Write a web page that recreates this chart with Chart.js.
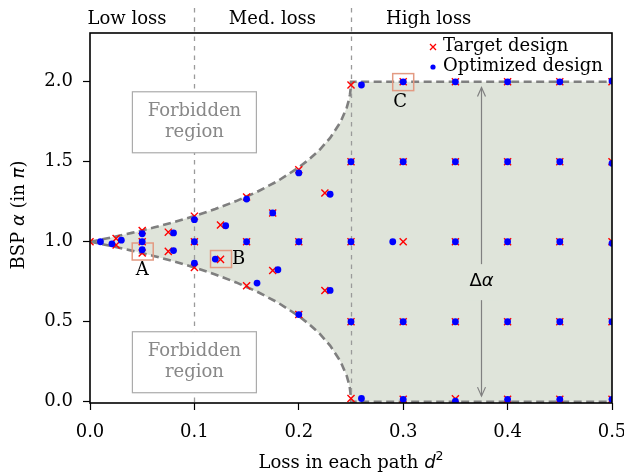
<!DOCTYPE html>
<html><head><meta charset="utf-8">
<script src="https://cdn.jsdelivr.net/npm/chart.js@4"></script>
<style>html,body{margin:0;padding:0;background:#fff}</style>
</head><body>
<canvas id="c" width="624" height="473"></canvas>
<script>
// ---- data ----
const xTicks = [0.0, 0.1, 0.2, 0.3, 0.4, 0.5];
const yTicks = [0.0, 0.5, 1.0, 1.5, 2.0];
const regionLabels = ['Low loss', 'Med. loss', 'High loss'];

const boundaryX     = [0, 0.02, 0.04, 0.06, 0.08, 0.10, 0.12, 0.14, 0.16, 0.18, 0.20, 0.21, 0.22, 0.23, 0.24, 0.246, 0.248, 0.249, 0.2498, 0.25, 0.5];
const boundaryUpper = [1.0, 1.0265, 1.0554, 1.0871, 1.122, 1.1609, 1.2046, 1.2543, 1.3119, 1.3803, 1.4646, 1.5156, 1.5751, 1.6493, 1.7487, 1.8398, 1.8864, 1.9196, 1.964, 2.0, 2.0];
const boundaryLower = [1.0, 0.9735, 0.9446, 0.9129, 0.878, 0.8391, 0.7954, 0.7457, 0.6881, 0.6197, 0.5354, 0.4844, 0.4249, 0.3507, 0.2513, 0.1602, 0.1136, 0.0804, 0.036, 0.0, 0.0];

const targetX = [0, 0.025, 0.025, 0.05, 0.05, 0.05, 0.075, 0.075, 0.1, 0.1, 0.1, 0.125, 0.125, 0.15, 0.15, 0.15, 0.175, 0.175, 0.2, 0.2, 0.2, 0.225, 0.225,
  0.25, 0.25, 0.25, 0.25, 0.25, 0.3, 0.3, 0.3, 0.3, 0.3, 0.35, 0.35, 0.35, 0.35, 0.35, 0.4, 0.4, 0.4, 0.4, 0.4, 0.45, 0.45, 0.45, 0.45, 0.45, 0.5, 0.5, 0.5, 0.5, 0.5];
const targetY = [1.0, 1.02, 0.98, 1.07, 1.0, 0.93, 1.06, 0.94, 1.16, 1.0, 0.84, 1.105, 0.89, 1.28, 1.0, 0.725, 1.18, 0.82, 1.45, 1.0, 0.545, 1.305, 0.695,
  1.98, 1.5, 1.0, 0.5, 0.02, 2.0, 1.5, 1.0, 0.5, 0.015, 2.0, 1.5, 1.0, 0.5, 0.018, 2.0, 1.5, 1.0, 0.5, 0.015, 2.0, 1.5, 1.0, 0.5, 0.015, 2.0, 1.5, 1.0, 0.5, 0.015];

const optimizedX = [0.01, 0.021, 0.03, 0.05, 0.05, 0.05, 0.08, 0.08, 0.1, 0.1, 0.1, 0.13, 0.12, 0.15, 0.15, 0.16, 0.175, 0.18, 0.2, 0.2, 0.2, 0.23, 0.23,
  0.26, 0.25, 0.25, 0.25, 0.26, 0.3, 0.3, 0.29, 0.3, 0.3, 0.35, 0.35, 0.35, 0.35, 0.35, 0.4, 0.4, 0.4, 0.4, 0.4, 0.45, 0.45, 0.45, 0.45, 0.45, 0.5, 0.5, 0.5, 0.5, 0.5];
const optimizedY = [1.0, 0.987, 1.01, 1.05, 1.0, 0.95, 1.055, 0.945, 1.138, 1.0, 0.866, 1.10, 0.892, 1.267, 1.0, 0.742, 1.18, 0.825, 1.43, 1.0, 0.545, 1.297, 0.696,
  1.98, 1.5, 1.0, 0.5, 0.02, 2.0, 1.5, 1.0, 0.5, 0.015, 2.0, 1.5, 1.0, 0.5, 0.003, 2.0, 1.5, 1.0, 0.5, 0.015, 2.0, 1.5, 1.0, 0.5, 0.015, 2.005, 1.49, 0.99, 0.5, 0.015];

const regionBorders = [0.1, 0.25];
const annotLetters = ['A', 'B', 'C'];
const annotPoints = [[0.0505, 0.939], [0.1255, 0.892], [0.3, 1.998]];

// ---- styling ----
const SERIF = '"DejaVu Serif", serif';
const SANS = '"DejaVu Sans", sans-serif';
const FILL = '#dfe4da';
const zip = (xs, ys) => xs.map((x, i) => ({x, y: ys[i]}));

function rich(ctx, parts, x, y, align) {
  let w = 0;
  parts.forEach(p => { ctx.font = p.f; p.w = ctx.measureText(p.t).width; w += p.w; });
  let cx = align === 'center' ? x - w / 2 : x;
  ctx.textAlign = 'left';
  parts.forEach(p => { ctx.font = p.f; ctx.fillText(p.t, cx, y + (p.dy || 0)); cx += p.w; });
}

const deco = {
  id: 'deco',
  afterDatasetDraw(chart, args) {
    if (args.index !== 1) return;
    const ctx = chart.ctx, xs = chart.scales.x, ys = chart.scales.y, ca = chart.chartArea;
    ctx.save();
    // region border lines
    ctx.strokeStyle = '#9a9a9a'; ctx.lineWidth = 1.3; ctx.setLineDash([4.5, 5]);
    regionBorders.forEach(v => {
      const px = Math.round(xs.getPixelForValue(v)) + 0.5;
      ctx.beginPath(); ctx.moveTo(px, 8); ctx.lineTo(px, ca.bottom); ctx.stroke();
    });
    ctx.setLineDash([]);
    // forbidden region boxes
    [1.75, 0.25].forEach(v => {
      const cx = xs.getPixelForValue(0.1), cy = ys.getPixelForValue(v);
      ctx.fillStyle = '#fff'; ctx.fillRect(cx - 62, cy - 30, 124, 61);
      ctx.strokeStyle = '#ababab'; ctx.lineWidth = 1.2; ctx.strokeRect(cx - 62, cy - 30, 124, 61);
      ctx.fillStyle = '#888'; ctx.font = '18px ' + SERIF; ctx.textAlign = 'center'; ctx.textBaseline = 'middle';
      ctx.fillText('Forbidden', cx, cy - 10);
      ctx.fillText('region', cx, cy + 11);
    });
    // delta alpha arrow
    const ax = xs.getPixelForValue(0.375);
    const y1 = ys.getPixelForValue(1.965), y2 = ys.getPixelForValue(0.035);
    ctx.strokeStyle = '#808080'; ctx.lineWidth = 1.2;
    ctx.beginPath(); ctx.moveTo(ax, y1); ctx.lineTo(ax, y2); ctx.stroke();
    ctx.beginPath();
    ctx.moveTo(ax - 4, y1 + 9); ctx.lineTo(ax, y1); ctx.lineTo(ax + 4, y1 + 9);
    ctx.moveTo(ax - 4, y2 - 9); ctx.lineTo(ax, y2); ctx.lineTo(ax + 4, y2 - 9);
    ctx.stroke();
    const ly = ys.getPixelForValue(0.76);
    ctx.fillStyle = FILL; ctx.fillRect(ax - 18, ly - 16, 36, 36);
    ctx.fillStyle = '#000'; ctx.textBaseline = 'middle';
    rich(ctx, [{t: 'Δ', f: '18px ' + SANS}, {t: 'α', f: 'oblique 18px ' + SANS}], ax, ly + 1, 'center');
    // A, B, C boxes
    ctx.strokeStyle = '#e39a82'; ctx.lineWidth = 1.5;
    annotPoints.forEach(p => {
      const cx = xs.getPixelForValue(p[0]), cy = ys.getPixelForValue(p[1]);
      ctx.strokeRect(cx - 10.5, cy - 8.5, 21, 17);
    });
    ctx.fillStyle = '#000'; ctx.font = '18px ' + SERIF; ctx.textBaseline = 'middle';
    ctx.textAlign = 'center';
    ctx.fillText(annotLetters[0], xs.getPixelForValue(0.05), ys.getPixelForValue(0.82));
    ctx.textAlign = 'left';
    ctx.fillText(annotLetters[1], xs.getPixelForValue(0.136), ys.getPixelForValue(0.89));
    ctx.textAlign = 'center';
    ctx.fillText(annotLetters[2], xs.getPixelForValue(0.297), ys.getPixelForValue(1.872));
    ctx.restore();
  },
  afterDraw(chart) {
    const ctx = chart.ctx, xs = chart.scales.x, ca = chart.chartArea;
    ctx.save();
    // frame
    ctx.strokeStyle = '#000'; ctx.lineWidth = 1.6;
    ctx.strokeRect(ca.left, ca.top, ca.right - ca.left, ca.bottom - ca.top);
    // top region labels
    ctx.fillStyle = '#000'; ctx.font = '18px ' + SERIF; ctx.textAlign = 'center'; ctx.textBaseline = 'alphabetic';
    [0.0355, 0.1747, 0.3244].forEach((v, i) => ctx.fillText(regionLabels[i], xs.getPixelForValue(v), 24));
    // legend
    const lx = 433;
    ctx.strokeStyle = '#ff0000'; ctx.lineWidth = 1.3;
    ctx.beginPath(); ctx.moveTo(lx - 3, 44); ctx.lineTo(lx + 3, 50); ctx.moveTo(lx + 3, 44); ctx.lineTo(lx - 3, 50); ctx.stroke();
    ctx.fillStyle = '#0000ff'; ctx.beginPath(); ctx.arc(lx, 67, 2.6, 0, Math.PI * 2); ctx.fill();
    ctx.fillStyle = '#000'; ctx.textAlign = 'left'; ctx.textBaseline = 'middle';
    ctx.fillText('Target design', 443, 46);
    ctx.fillText('Optimized design', 443, 66);
    // axis titles
    ctx.textBaseline = 'alphabetic';
    rich(ctx, [{t: 'Loss in each path ', f: '18px ' + SERIF}, {t: 'd', f: 'oblique 18px ' + SANS}, {t: '2', f: '12.5px ' + SANS, dy: -8}], (ca.left + ca.right) / 2, 468, 'center');
    ctx.translate(24, 215); ctx.rotate(-Math.PI / 2);
    rich(ctx, [{t: 'BSP ', f: '18px ' + SERIF}, {t: 'α', f: 'oblique 18px ' + SANS}, {t: ' (in ', f: '18px ' + SERIF}, {t: 'π', f: 'oblique 18px ' + SANS}, {t: ')', f: '18px ' + SERIF}], 0, 0, 'center');
    ctx.restore();
  }
};

const tickFont = {family: SERIF, size: 18};
new Chart(document.getElementById('c'), {
  type: 'scatter',
  data: {
    datasets: [
      {type: 'line', label: 'upper', data: zip(boundaryX, boundaryUpper), borderColor: '#7f7f7f', borderWidth: 2.6, borderDash: [8, 4.5],
       pointRadius: 0, fill: '+1', backgroundColor: FILL, tension: 0, order: 10},
      {type: 'line', label: 'lower', data: zip(boundaryX, boundaryLower), borderColor: '#7f7f7f', borderWidth: 2.6, borderDash: [8, 4.5],
       pointRadius: 0, fill: false, tension: 0, order: 9},
      {label: 'Target design', data: zip(targetX, targetY), pointStyle: 'crossRot', pointRadius: 5, borderColor: '#ff0000', borderWidth: 1.4,
       backgroundColor: '#ff0000', clip: 0, order: 1},
      {label: 'Optimized design', data: zip(optimizedX, optimizedY), pointStyle: 'circle', pointRadius: 3.4, borderWidth: 0,
       backgroundColor: '#0000ff', borderColor: '#0000ff', clip: 0, order: 0}
    ]
  },
  options: {
    responsive: false, animation: false, events: [],
    layout: {padding: {top: 33, right: 12, left: 0, bottom: 0}},
    plugins: {legend: {display: false}, tooltip: {enabled: false}},
    scales: {
      x: {type: 'linear', min: 0, max: 0.5,
        afterBuildTicks: s => { s.ticks = xTicks.map(v => ({value: v})); },
        afterFit: s => { s.height = 70; s.paddingLeft = 0; s.paddingRight = 0; },
        grid: {drawOnChartArea: false, drawTicks: true, tickLength: 7, tickWidth: 1.2, tickColor: '#000'},
        border: {display: false},
        ticks: {font: tickFont, color: '#000', padding: 12, maxRotation: 0, autoSkip: false, callback: v => v.toFixed(1)}},
      y: {type: 'linear', min: -0.008, max: 2.305,
        afterBuildTicks: s => { s.ticks = yTicks.map(v => ({value: v})); },
        afterFit: s => { s.width = 90; s.paddingTop = 0; s.paddingBottom = 0; },
        grid: {drawOnChartArea: false, drawTicks: true, tickLength: 7, tickWidth: 1.2, tickColor: '#000'},
        border: {display: false},
        ticks: {font: tickFont, color: '#000', padding: 10, autoSkip: false, callback: v => v.toFixed(1)}}
    }
  },
  plugins: [deco]
});
</script>
</body></html>
